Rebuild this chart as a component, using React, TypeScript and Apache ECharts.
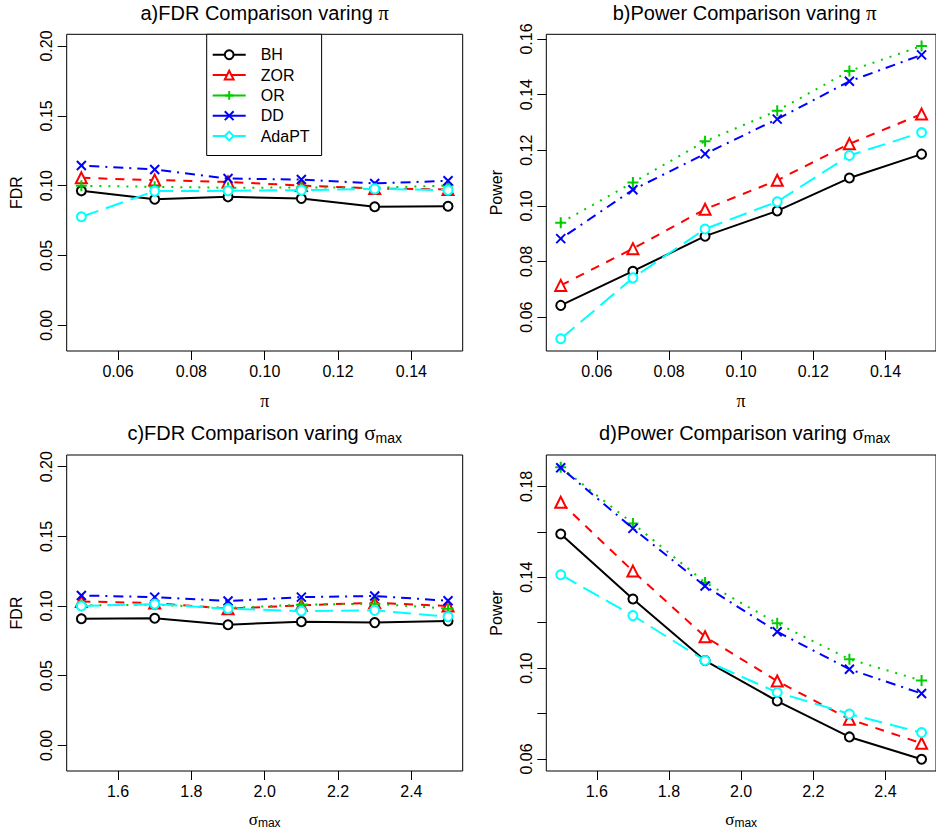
import React, { useEffect, useRef } from "react";
import * as echarts from "echarts";

const methods = ["BH", "ZOR", "OR", "DD", "AdaPT"];
const piVals = [0.05, 0.07, 0.09, 0.11, 0.13, 0.15];
const sigmaVals = [1.5, 1.7, 1.9, 2.1, 2.3, 2.5];

// a) FDR vs pi
const fdrPiBH = [0.0963, 0.0903, 0.092, 0.0908, 0.0849, 0.0853];
const fdrPiZOR = [0.1056, 0.104, 0.1027, 0.1001, 0.098, 0.0973];
const fdrPiOR = [0.0999, 0.0992, 0.0985, 0.0987, 0.0985, 0.1001];
const fdrPiDD = [0.1144, 0.1116, 0.1051, 0.1044, 0.1016, 0.1035];
const fdrPiAda = [0.0777, 0.0961, 0.0963, 0.0968, 0.0977, 0.0968];

// b) Power vs pi
const powPiBH = [0.0642, 0.0765, 0.0891, 0.0982, 0.11, 0.1186];
const powPiZOR = [0.0714, 0.0846, 0.0988, 0.1092, 0.1223, 0.133];
const powPiOR = [0.0939, 0.1084, 0.1232, 0.1342, 0.1485, 0.1575];
const powPiDD = [0.0882, 0.1058, 0.1187, 0.1312, 0.1448, 0.1543];
const powPiAda = [0.0522, 0.0741, 0.0917, 0.1015, 0.1181, 0.1264];

// c) FDR vs sigma_max
const fdrSgBH = [0.0909, 0.0912, 0.0866, 0.0888, 0.0881, 0.0893];
const fdrSgZOR = [0.1033, 0.1021, 0.0981, 0.1005, 0.1024, 0.1];
const fdrSgOR = [0.1005, 0.101, 0.0986, 0.101, 0.1017, 0.0981];
const fdrSgDD = [0.1076, 0.1064, 0.1036, 0.1064, 0.1072, 0.1038];
const fdrSgAda = [0.1, 0.1014, 0.0981, 0.0964, 0.0969, 0.0924];

// d) Power vs sigma_max
const powSgBH = [0.159, 0.1304, 0.1033, 0.0855, 0.0697, 0.0599];
const powSgZOR = [0.173, 0.1427, 0.1138, 0.0943, 0.0775, 0.0669];
const powSgOR = [0.1884, 0.1637, 0.1377, 0.1197, 0.1039, 0.0945];
const powSgDD = [0.1882, 0.1615, 0.1361, 0.116, 0.0995, 0.0888];
const powSgAda = [0.1411, 0.1231, 0.1033, 0.0893, 0.0798, 0.0716];

// tick values
const piTicks = [0.06, 0.08, 0.1, 0.12, 0.14];
const sigmaTicks = [1.6, 1.8, 2.0, 2.2, 2.4];
const fdrTicks = [0, 0.05, 0.1, 0.15, 0.2];
const powPiTicks = [0.06, 0.08, 0.1, 0.12, 0.14, 0.16];
const powSgTicks = [0.06, 0.08, 0.1, 0.12, 0.14, 0.16, 0.18];
const powSgLabels = [0.06, 0.1, 0.14, 0.18];

const COLORS = ["#000000", "#ff0000", "#00cd00", "#0000ff", "#00ffff"];
const PLUS = "path://M5,0L5,10M0,5L10,5";
const CROSS = "path://M0,0L10,10M10,0L0,10";
const SYMBOLS = ["emptyCircle", "emptyTriangle", PLUS, CROSS, "emptyCircle"];
const SYMSIZE = [9, 11, 11, 9, 9];
const DASHES: any[] = ["solid", [9, 8], [2, 7], [2, 6, 10, 6], [18, 8]];

const FONT = "'Liberation Sans', Arial, sans-serif";
const SERIF = "'Liberation Serif', 'DejaVu Serif', serif";

export default function App() {
  const ref = useRef<HTMLDivElement>(null);
  useEffect(() => {
    if (!ref.current) return;
    const chart = echarts.init(ref.current, undefined, { renderer: "svg" });

    const grids = [
      { left: 66.7, top: 34.3, width: 396, height: 316.7 },
      { left: 546.3, top: 34.3, width: 396.7, height: 316.7 },
      { left: 66.7, top: 455, width: 396, height: 316 },
      { left: 546.3, top: 455, width: 396.7, height: 316 },
    ].map((g) => ({ ...g, show: true, borderColor: "#000", borderWidth: 1, backgroundColor: "transparent" }));

    const rich = {
      g: { fontFamily: SERIF, fontSize: 21, color: "#000" },
      s: { fontFamily: SERIF, fontSize: 21, color: "#000" },
      sub: { fontFamily: FONT, fontSize: 14, color: "#000", padding: [10, 0, 0, 0] },
    };
    const axisRich = {
      s: { fontFamily: SERIF, fontSize: 17, color: "#000" },
      sub: { fontFamily: FONT, fontSize: 12, color: "#000", padding: [8, 0, 0, 0] },
    };

    const xAxisBase = (gi: number, min: number, max: number, ticks: number[], dec: number, name: string, isSigma: boolean) => ({
      type: "value",
      gridIndex: gi,
      min,
      max,
      name,
      nameLocation: "middle",
      nameGap: isSigma ? 38 : 41,
      nameTextStyle: isSigma
        ? { color: "#000", fontSize: 16, rich: axisRich }
        : { color: "#000", fontSize: 18, fontFamily: SERIF },
      axisLine: { show: false, onZero: false },
      splitLine: { show: false },
      axisTick: { show: true, customValues: ticks, length: 9, lineStyle: { color: "#000", width: 1 } },
      axisLabel: {
        customValues: ticks,
        margin: 12,
        fontSize: 16,
        fontFamily: FONT,
        color: "#000",
        formatter: (v: number) => v.toFixed(dec),
      },
    });

    const yAxisBase = (gi: number, min: number, max: number, ticks: number[], labels: number[], name: string) => ({
      type: "value",
      gridIndex: gi,
      min,
      max,
      name,
      nameLocation: "middle",
      nameGap: 42,
      nameTextStyle: { color: "#000", fontSize: 16, fontFamily: FONT },
      axisLine: { show: false, onZero: false },
      splitLine: { show: false },
      axisTick: { show: true, customValues: ticks, length: 9, lineStyle: { color: "#000", width: 1 } },
      axisLabel: {
        customValues: labels,
        rotate: 90,
        margin: 12,
        fontSize: 16,
        fontFamily: FONT,
        color: "#000",
        formatter: (v: number) => v.toFixed(2),
      },
    });

    const sigmaName = "{s|σ}{sub|max}";

    const xAxes = [
      xAxisBase(0, 0.046, 0.154, piTicks, 2, "π", false),
      xAxisBase(1, 0.046, 0.154, piTicks, 2, "π", false),
      xAxisBase(2, 1.46, 2.54, sigmaTicks, 1, sigmaName, true),
      xAxisBase(3, 1.46, 2.54, sigmaTicks, 1, sigmaName, true),
    ];
    const yAxes = [
      yAxisBase(0, -0.0184, 0.2084, fdrTicks, fdrTicks, "FDR"),
      yAxisBase(1, 0.0478, 0.1617, powPiTicks, powPiTicks, "Power"),
      yAxisBase(2, -0.0184, 0.2084, fdrTicks, fdrTicks, "FDR"),
      yAxisBase(3, 0.0547, 0.1938, powSgTicks, powSgLabels, "Power"),
    ];

    const panels = [
      { xs: piVals, ys: [fdrPiBH, fdrPiZOR, fdrPiOR, fdrPiDD, fdrPiAda] },
      { xs: piVals, ys: [powPiBH, powPiZOR, powPiOR, powPiDD, powPiAda] },
      { xs: sigmaVals, ys: [fdrSgBH, fdrSgZOR, fdrSgOR, fdrSgDD, fdrSgAda] },
      { xs: sigmaVals, ys: [powSgBH, powSgZOR, powSgOR, powSgDD, powSgAda] },
    ];

    const series: any[] = [];
    const makeSeries = (gi: number, k: number, data: number[][], symbol: string) => ({
      type: "line",
      name: methods[k],
      xAxisIndex: gi,
      yAxisIndex: gi,
      data,
      symbol,
      symbolSize: SYMSIZE[k],
      showAllSymbol: true,
      color: COLORS[k],
      lineStyle: { color: COLORS[k], width: 2, type: DASHES[k] },
      itemStyle: { color: COLORS[k], borderColor: COLORS[k], borderWidth: 2 },
      emphasis: { disabled: true },
      z: 2 + k,
    });
    // legend-only series (no data): the legend of the original shows a diamond for AdaPT
    methods.forEach((m, k) => {
      series.push(makeSeries(0, k, [], k === 4 ? "emptyDiamond" : SYMBOLS[k]));
    });
    panels.forEach((p, gi) => {
      p.ys.forEach((ys, k) => {
        series.push(makeSeries(gi, k, p.xs.map((x, i) => [x, ys[i]]), SYMBOLS[k]));
      });
    });

    const titleCenters = [264.7, 744.7, 264.7, 744.7];
    const titleTexts = [
      "a)FDR Comparison varing {g|π}",
      "b)Power Comparison varing {g|π}",
      "c)FDR Comparison varing {s|σ}{sub|max}",
      "d)Power Comparison varing {s|σ}{sub|max}",
    ];
    const titleTops = [2, 2, 421, 421];

    chart.setOption({
      animation: false,
      backgroundColor: "#ffffff",
      title: titleTexts.map((t, i) => ({
        text: t,
        left: titleCenters[i],
        top: titleTops[i],
        textAlign: "center",
        padding: 0,
        textStyle: { fontFamily: FONT, fontSize: 20, fontWeight: "normal", color: "#000", rich },
      })),
      legend: {
        data: methods,
        orient: "vertical",
        left: 206.7,
        top: 34.3,
        padding: [12.5, 12, 11.5, 5],
        itemWidth: 33,
        itemHeight: 11,
        itemGap: 4.3,
        backgroundColor: "#fff",
        borderColor: "#000",
        borderWidth: 1,
        borderRadius: 0,
        selectedMode: false,
        lineStyle: { type: "solid", width: 2 },
        textStyle: { fontFamily: FONT, fontSize: 16, color: "#000", padding: [0, 0, 0, 10] },
        z: 20,
      },
      grid: grids,
      xAxis: xAxes,
      yAxis: yAxes,
      series,
    });
    return () => chart.dispose();
  }, []);
  return (
    <div
      ref={ref}
      style={{ position: "fixed", left: 0, top: 0, width: 936, height: 835, background: "#fff" }}
    />
  );
}
